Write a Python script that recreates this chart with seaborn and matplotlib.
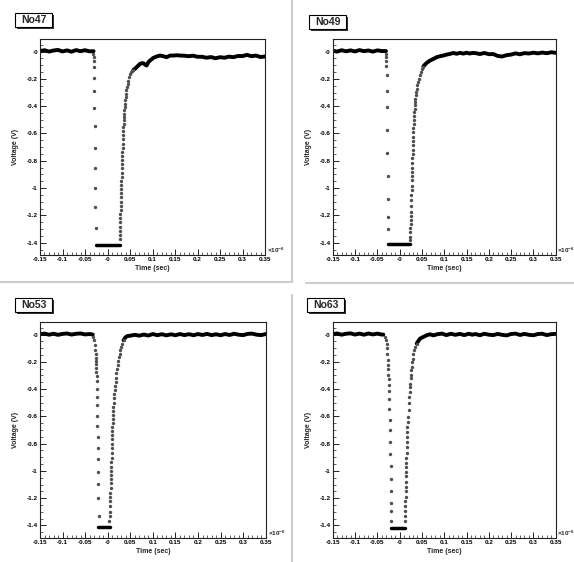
import matplotlib
matplotlib.use("Agg")
import matplotlib.pyplot as plt
import seaborn as sns
from matplotlib.lines import Line2D
from matplotlib.patches import Rectangle
from matplotlib.ticker import FixedLocator, FixedFormatter, MultipleLocator

# ---------------- data (time in 1e-6 s, voltage in V) ----------------
panel_names = ["No47", "No49", "No53", "No63"]

x_ticks = [-0.15, -0.1, -0.05, 0.0, 0.05, 0.1, 0.15, 0.2, 0.25, 0.3, 0.35]
x_tick_labels = ["-0.15", "-0.1", "-0.05", "-0", "0.05", "0.1", "0.15", "0.2", "0.25", "0.3", "0.35"]
y_ticks = [-1.4, -1.2, -1.0, -0.8, -0.6, -0.4, -0.2, 0.0]
y_tick_labels = ["-1.4", "-1.2", "-1", "-0.8", "-0.6", "-0.4", "-0.2", "-0"]

base_t = [-0.15, -0.14, -0.13, -0.12, -0.11, -0.10, -0.09, -0.08, -0.07, -0.06, -0.05, -0.04]
tail_t = [0.17, 0.18, 0.19, 0.20, 0.21, 0.22, 0.23, 0.24, 0.25, 0.26, 0.27, 0.28,
          0.29, 0.30, 0.31, 0.32, 0.33, 0.34, 0.35]

# --- No47 ---
no47_base_v = [0.004, 0.010, 0.000, 0.008, 0.012, 0.001, 0.009, -0.001, 0.011, 0.003, 0.010, 0.002]
no47_base_end = (-0.031, 0.003)
no47_fall_t = [-0.0313, -0.0310, -0.0306, -0.0302, -0.0298, -0.0294, -0.0290, -0.0286, -0.0282,
               -0.0278, -0.0274, -0.0270, -0.0266]
no47_fall_v = [-0.02, -0.04, -0.066, -0.115, -0.195, -0.292, -0.414, -0.545, -0.703,
               -0.852, -0.998, -1.136, -1.29]
no47_sat_t = [-0.026, 0.028]
no47_sat_v = [-1.415, -1.415]
no47_rec_t = [0.0270, 0.0272, 0.0275, 0.0278, 0.0281, 0.0284, 0.0287, 0.0290, 0.0293, 0.0296,
              0.0299, 0.0302, 0.0305, 0.0308, 0.0311, 0.0314, 0.0317, 0.0320, 0.0323, 0.0326,
              0.0329, 0.0332, 0.0335, 0.0338, 0.0341, 0.0344, 0.0348, 0.0352, 0.0356, 0.0360,
              0.0365, 0.0370, 0.0376, 0.0382, 0.0389, 0.0396, 0.0404, 0.0412, 0.0421, 0.0432,
              0.0445, 0.0460, 0.0478, 0.0500, 0.0525, 0.0550, 0.0574]
no47_rec_v = [-1.375, -1.343, -1.312, -1.282, -1.251, -1.221, -1.190, -1.161, -1.129, -1.100,
              -1.068, -1.039, -1.010, -0.978, -0.946, -0.917, -0.886, -0.856, -0.825, -0.796,
              -0.764, -0.735, -0.703, -0.674, -0.642, -0.613, -0.582, -0.552, -0.528, -0.504,
              -0.479, -0.455, -0.431, -0.406, -0.382, -0.358, -0.333, -0.309, -0.285, -0.260,
              -0.236, -0.212, -0.187, -0.163, -0.148, -0.140, -0.134]
no47_curve_t = [0.0574, 0.0611, 0.0648, 0.0685, 0.0722, 0.0759, 0.0796, 0.0833, 0.0870, 0.0907,
                0.0944, 0.1019, 0.1093, 0.1167, 0.1241, 0.1315, 0.139, 0.146, 0.154, 0.161]
no47_curve_v = [-0.134, -0.126, -0.114, -0.102, -0.090, -0.085, -0.085, -0.095, -0.102, -0.078,
                -0.066, -0.046, -0.036, -0.029, -0.034, -0.041, -0.029, -0.029, -0.027, -0.029]
no47_tail_v = [-0.030, -0.034, -0.030, -0.038, -0.038, -0.045, -0.040, -0.049, -0.041, -0.045,
               -0.037, -0.041, -0.032, -0.033, -0.024, -0.034, -0.029, -0.040, -0.036]

# --- No49 ---
no49_base_v = [0.006, 0.000, 0.010, 0.002, 0.009, 0.001, 0.011, 0.003, 0.008, 0.000, 0.009, 0.004]
no49_base_end = (-0.0305, 0.004)
no49_fall_t = [-0.0303, -0.0300, -0.0297, -0.0294, -0.0290, -0.0286, -0.0282, -0.0278, -0.0274,
               -0.0270, -0.0266, -0.0262, -0.0258]
no49_fall_v = [-0.02, -0.041, -0.066, -0.102, -0.175, -0.292, -0.406, -0.572, -0.740,
               -0.912, -1.083, -1.209, -1.297]
no49_sat_t = [-0.0255, 0.0233]
no49_sat_v = [-1.41, -1.41]
no49_rec_t = [0.0233, 0.0236, 0.0240, 0.0243, 0.0246, 0.0249, 0.0252, 0.0255, 0.0258, 0.0261,
              0.0264, 0.0267, 0.0270, 0.0273, 0.0276, 0.0279, 0.0282, 0.0285, 0.0288, 0.0291,
              0.0294, 0.0297, 0.0300, 0.0303, 0.0307, 0.0311, 0.0315, 0.0319, 0.0324, 0.0329,
              0.0335, 0.0341, 0.0347, 0.0354, 0.0361, 0.0369, 0.0380, 0.0395, 0.0410, 0.0427,
              0.0450, 0.0472, 0.0494, 0.0532]
no49_rec_v = [-1.379, -1.355, -1.324, -1.294, -1.263, -1.234, -1.202, -1.173, -1.129, -1.088,
              -1.051, -1.015, -0.983, -0.942, -0.910, -0.881, -0.852, -0.815, -0.783, -0.747,
              -0.718, -0.686, -0.657, -0.625, -0.589, -0.557, -0.528, -0.504, -0.474, -0.443,
              -0.418, -0.394, -0.370, -0.345, -0.321, -0.297, -0.272, -0.248, -0.224, -0.200,
              -0.175, -0.151, -0.127, -0.110]
no49_curve_t = [0.0532, 0.0569, 0.0607, 0.0681, 0.0756, 0.0831, 0.0906, 0.098, 0.1055, 0.113,
                0.1205, 0.128, 0.1354, 0.143, 0.150, 0.157, 0.164]
no49_curve_v = [-0.110, -0.095, -0.083, -0.066, -0.054, -0.041, -0.034, -0.029, -0.022, -0.017,
                -0.010, -0.016, -0.009, -0.015, -0.008, -0.014, -0.010]
no49_tail_v = [-0.011, -0.018, -0.010, -0.019, -0.018, -0.032, -0.036, -0.026, -0.022, -0.013,
               -0.020, -0.011, -0.014, -0.008, -0.013, -0.007, -0.012, -0.005, -0.009]

# --- No53 ---
no53_base_v = [0.002, 0.007, -0.001, 0.006, -0.002, 0.005, 0.008, 0.000, 0.006, 0.008, 0.001, 0.004]
no53_base_end = (-0.033, 0.0)
no53_fall_t = [-0.0315, -0.0300, -0.0285, -0.0278, -0.0270, -0.0263, -0.0259, -0.0255, -0.0252,
               -0.0250, -0.0248, -0.0245, -0.0242, -0.0240, -0.0238, -0.0235, -0.0230, -0.0226,
               -0.0222, -0.0218, -0.0214, -0.0210, -0.0206, -0.0200]
no53_fall_v = [-0.018, -0.042, -0.078, -0.115, -0.139, -0.171, -0.195, -0.219, -0.244,
               -0.274, -0.303, -0.339, -0.400, -0.456, -0.517, -0.595, -0.671, -0.749,
               -0.829, -0.914, -1.005, -1.095, -1.200, -1.329]
no53_sat_t = [-0.0205, 0.005]
no53_sat_v = [-1.412, -1.412]
no53_rec_t = [0.0034, 0.0041, 0.0044, 0.0048, 0.0052, 0.0056, 0.0059, 0.0063, 0.0066, 0.0070,
              0.0072, 0.0074, 0.0078, 0.0080, 0.0085, 0.0087, 0.0089, 0.0093, 0.0095, 0.0097,
              0.0100, 0.0103, 0.0107, 0.0110, 0.0115, 0.0118, 0.0122, 0.0130, 0.0137, 0.0145,
              0.0152, 0.0159, 0.0174, 0.0182, 0.0189, 0.0204, 0.0219, 0.0234, 0.0248, 0.0263,
              0.0278, 0.0300, 0.0322, 0.0352]
no53_rec_v = [-1.371, -1.334, -1.298, -1.261, -1.224, -1.188, -1.159, -1.127, -1.090, -1.061,
              -1.029, -0.998, -0.969, -0.932, -0.903, -0.866, -0.834, -0.803, -0.768, -0.737,
              -0.707, -0.676, -0.651, -0.622, -0.590, -0.559, -0.530, -0.500, -0.468, -0.437,
              -0.407, -0.378, -0.347, -0.315, -0.285, -0.256, -0.225, -0.193, -0.168, -0.139,
              -0.115, -0.091, -0.066, -0.042]
no53_curve_t = [0.0352, 0.0389, 0.0426, 0.050, 0.060, 0.070, 0.080, 0.090, 0.100, 0.110,
                0.120, 0.130, 0.140, 0.150, 0.160]
no53_curve_v = [-0.042, -0.022, -0.012, -0.008, -0.002, -0.008, 0.000, -0.007, 0.004, -0.005,
                0.003, -0.006, 0.002, -0.005, 0.004]
no53_tail_v = [-0.004, 0.003, -0.005, 0.004, -0.003, 0.005, -0.004, 0.002, -0.005, 0.004,
               -0.003, 0.006, -0.001, -0.004, 0.005, 0.007, -0.001, -0.004, 0.004]

# --- No63 ---
no63_base_v = [0.003, 0.008, -0.001, 0.006, 0.009, 0.000, 0.007, -0.001, 0.008, 0.001, 0.007, 0.000]
no63_base_end = (-0.0365, 0.0)
no63_fall_t = [-0.0328, -0.0305, -0.0290, -0.0283, -0.0275, -0.0268, -0.0260, -0.0253, -0.0249,
               -0.0245, -0.0242, -0.0238, -0.0232, -0.0228, -0.0223, -0.0218, -0.0215, -0.0208,
               -0.0203, -0.0200, -0.0195, -0.0192, -0.0188, -0.0185]
no63_fall_v = [-0.017, -0.037, -0.066, -0.102, -0.139, -0.183, -0.220, -0.256, -0.293,
               -0.329, -0.371, -0.415, -0.476, -0.549, -0.627, -0.700, -0.785, -0.876,
               -0.963, -1.061, -1.151, -1.232, -1.297, -1.366]
no63_sat_t = [-0.020, 0.012]
no63_sat_v = [-1.419, -1.419]
no63_rec_t = [0.0121, 0.0123, 0.0126, 0.0128, 0.0130, 0.0133, 0.0135, 0.0137, 0.0140, 0.0143,
              0.0146, 0.0149, 0.0151, 0.0153, 0.0156, 0.0159, 0.0162, 0.0166, 0.0170, 0.0173,
              0.0180, 0.0188, 0.0203, 0.0211, 0.0218, 0.0226, 0.0233, 0.0241, 0.0248, 0.0255,
              0.0263, 0.0270, 0.0285, 0.0293, 0.0308, 0.0330, 0.0353, 0.0383]
no63_rec_v = [-1.371, -1.334, -1.297, -1.261, -1.224, -1.188, -1.151, -1.115, -1.078, -1.041,
              -1.005, -0.968, -0.939, -0.907, -0.871, -0.822, -0.785, -0.749, -0.712, -0.676,
              -0.639, -0.603, -0.554, -0.505, -0.456, -0.420, -0.383, -0.359, -0.322, -0.298,
              -0.261, -0.237, -0.200, -0.176, -0.139, -0.115, -0.091, -0.066]
no63_curve_t = [0.0383, 0.0420, 0.0457, 0.0532, 0.0607, 0.0682, 0.076, 0.085, 0.095, 0.105,
                0.115, 0.125, 0.135, 0.145, 0.155, 0.163]
no63_curve_v = [-0.066, -0.047, -0.030, -0.017, -0.005, 0.002, -0.006, 0.003, 0.007, -0.004,
                0.006, -0.002, 0.005, -0.004, 0.006, -0.001]
no63_tail_v = [0.004, -0.005, 0.006, -0.001, -0.004, 0.005, -0.002, -0.006, 0.004, 0.007,
               -0.003, 0.005, -0.002, -0.005, 0.004, 0.006, -0.004, 0.003, 0.005]

panels = [
    (no47_base_v, no47_base_end, no47_fall_t, no47_fall_v, no47_sat_t, no47_sat_v,
     no47_rec_t, no47_rec_v, no47_curve_t, no47_curve_v, no47_tail_v),
    (no49_base_v, no49_base_end, no49_fall_t, no49_fall_v, no49_sat_t, no49_sat_v,
     no49_rec_t, no49_rec_v, no49_curve_t, no49_curve_v, no49_tail_v),
    (no53_base_v, no53_base_end, no53_fall_t, no53_fall_v, no53_sat_t, no53_sat_v,
     no53_rec_t, no53_rec_v, no53_curve_t, no53_curve_v, no53_tail_v),
    (no63_base_v, no63_base_end, no63_fall_t, no63_fall_v, no63_sat_t, no63_sat_v,
     no63_rec_t, no63_rec_v, no63_curve_t, no63_curve_v, no63_tail_v),
]

# ---------------- layout ----------------
sns.set_style("white")
plt.rcParams['font.family'] = ['Liberation Sans', 'DejaVu Sans']
plt.rcParams['mathtext.fontset'] = 'custom'
plt.rcParams['mathtext.rm'] = 'Liberation Sans:bold'
plt.rcParams['mathtext.it'] = 'Liberation Sans:bold'

W, H = 574, 562
fig = plt.figure(figsize=(W / 100, H / 100), dpi=100)
fig.patch.set_facecolor("white")

# axes boxes in pixels: left, top, right, bottom
boxes = [(40, 39.3, 265, 255), (332.7, 39.3, 555.7, 255),
         (40, 322.3, 265.7, 537.7), (332.7, 322.3, 555.7, 537.7)]
title_boxes = [(15, 13), (309, 15), (15, 298), (307, 298)]

def fx(px):
    return px / W

def fy(py):
    return 1 - py / H

# separator lines
sep = "#cccccc"
for (x0, y0, x1, y1) in [(292, 0, 292, 282), (292, 295, 292, 562), (0, 282, 292, 282), (306, 283, 574, 283)]:
    fig.add_artist(Line2D([fx(x0), fx(x1)], [fy(y0), fy(y1)], color=sep, lw=1.5, transform=fig.transFigure))

for i, (name, data, box, tb) in enumerate(zip(panel_names, panels, boxes, title_boxes)):
    (bv, bend, ft, fv, st, sv, rt, rv, ct, cv, tv) = data
    l, t, r, b = box
    ax = fig.add_axes([fx(l), fy(b), (r - l) / W, (b - t) / H])
    ax.set_facecolor("white")

    # baseline (dense samples)
    sns.lineplot(x=base_t + [bend[0]], y=bv + [bend[1]], ax=ax, color="black",
                 lw=2.8, sort=False, estimator=None)
    # saturated region
    sns.lineplot(x=st, y=sv, ax=ax, color="black", lw=2.5, sort=False, estimator=None)
    # recovery curve + tail (dense samples)
    sns.lineplot(x=ct + tail_t, y=cv + tv, ax=ax, color="black", lw=2.8, sort=False, estimator=None)
    # sparse samples during the fast edges
    sns.scatterplot(x=ft + rt, y=fv + rv, ax=ax, color="#4f4f4f", s=6, linewidth=0, zorder=3)

    ax.set_xlim(-0.15, 0.35)
    ax.set_ylim(-1.49, 0.09)

    ax.xaxis.set_major_locator(FixedLocator(x_ticks))
    ax.xaxis.set_major_formatter(FixedFormatter(x_tick_labels))
    ax.xaxis.set_minor_locator(MultipleLocator(0.01))
    ax.yaxis.set_major_locator(FixedLocator(y_ticks))
    ax.yaxis.set_major_formatter(FixedFormatter(y_tick_labels))
    ax.yaxis.set_minor_locator(MultipleLocator(0.05))

    ax.tick_params(axis="both", which="major", direction="in", length=4.2, width=0.6,
                   labelsize=4.6, pad=1.5, colors="black", bottom=True, left=True)
    ax.tick_params(axis="both", which="minor", direction="in", length=2.0, width=0.5,
                   bottom=True, left=True)
    for lab in ax.get_xticklabels() + ax.get_yticklabels():
        lab.set_fontweight("bold")
    for sp in ax.spines.values():
        sp.set_color("#222222")
        sp.set_linewidth(0.8)
        sp.set_visible(True)

    ax.set_xlabel("Time (sec)", fontsize=5, fontweight="bold")
    ax.set_ylabel("Voltage (V)", fontsize=5, fontweight="bold")
    ax.xaxis.set_label_coords(0.5, -0.047)
    ax.yaxis.set_label_coords(-0.092, 0.5)

    ax.text(1.008, 0.0, r"$\times10^{-6}$", transform=ax.transAxes, fontsize=4.6,
            ha="left", va="bottom")

    # title box with shadow
    bx, by = tb
    bw, bh = 37, 14
    fig.add_artist(Rectangle((fx(bx + 2), fy(by + bh + 2)), bw / W, bh / H,
                             transform=fig.transFigure, facecolor="#333333", edgecolor="none"))
    fig.add_artist(Rectangle((fx(bx), fy(by + bh)), bw / W, bh / H,
                             transform=fig.transFigure, facecolor="white", edgecolor="black", lw=0.8))
    fig.text(fx(bx + bw / 2), fy(by + bh / 2), name, fontsize=7.5, fontweight="bold",
             ha="center", va="center")

fig.savefig("out.png", dpi=100, facecolor="white")
